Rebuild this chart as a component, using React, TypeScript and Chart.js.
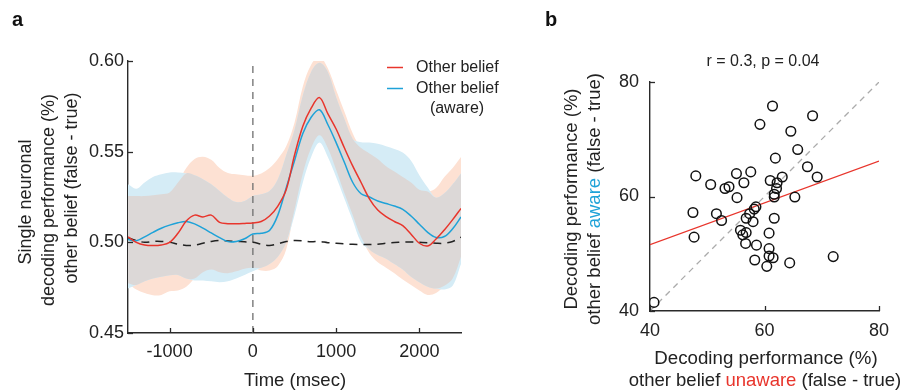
import React, { useEffect, useRef } from "react";
import { Chart, registerables } from "chart.js";

Chart.register(...registerables);

// ---------------- Panel a data ----------------
const times = [
  -1500, -1400, -1300, -1200, -1100, -1000, -900, -800, -700, -600, -500, -400, -300, -200, -100,
  0, 100, 200, 300, 400, 500, 600, 700, 800, 900, 1000, 1100, 1200, 1300, 1400, 1500, 1600, 1700,
  1800, 1900, 2000, 2100, 2200, 2300, 2400, 2500,
];
const redMean = [
  0.503, 0.5, 0.4985, 0.4982, 0.4985, 0.5, 0.505, 0.5117, 0.515, 0.514, 0.515, 0.511, 0.5103,
  0.5102, 0.5104, 0.5107, 0.5115, 0.5145, 0.52, 0.529, 0.548, 0.564, 0.574, 0.5798, 0.571, 0.5625,
  0.552, 0.542, 0.533, 0.524, 0.5178, 0.5142, 0.5115, 0.5092, 0.5045, 0.4995, 0.498, 0.5018,
  0.5068, 0.5125, 0.5187,
];
const blueMean = [
  0.5015, 0.5009, 0.503, 0.5055, 0.5078, 0.5095, 0.5108, 0.5115, 0.5102, 0.5078, 0.5052, 0.5026,
  0.5004, 0.5005, 0.502, 0.5046, 0.505, 0.5065, 0.515, 0.53, 0.545, 0.56, 0.569, 0.5731, 0.565,
  0.555, 0.544, 0.533, 0.5268, 0.525, 0.5228, 0.5214, 0.52, 0.5182, 0.5145, 0.51, 0.5055, 0.5027,
  0.5032, 0.5075, 0.514,
];
const chanceMean = [
  0.5025, 0.501, 0.5, 0.5005, 0.5005, 0.5, 0.499, 0.4983, 0.4985, 0.4995, 0.5005, 0.501, 0.5008,
  0.5005, 0.5003, 0.5, 0.499, 0.4983, 0.4992, 0.5005, 0.501, 0.5008, 0.5003, 0.5005, 0.4998,
  0.4995, 0.4992, 0.4989, 0.4988, 0.4988, 0.499, 0.4995, 0.4999, 0.5002, 0.5002, 0.5, 0.4998,
  0.4995, 0.4995, 0.5005, 0.5028,
];
const redHi = [
  0.5256, 0.5255, 0.5255, 0.526, 0.5265, 0.5275, 0.533, 0.541, 0.546, 0.5472, 0.5455, 0.541,
  0.5382, 0.5375, 0.537, 0.5367, 0.538, 0.541, 0.546, 0.553, 0.566, 0.586, 0.598, 0.6024, 0.596,
  0.584, 0.572, 0.56, 0.552, 0.549, 0.546, 0.542, 0.539, 0.536, 0.533, 0.529, 0.528, 0.53, 0.536,
  0.541, 0.547,
];
const redLo = [
  0.4775, 0.474, 0.472, 0.4708, 0.471, 0.473, 0.4735, 0.4755, 0.48, 0.4835, 0.485, 0.4835, 0.483,
  0.484, 0.4855, 0.486, 0.4845, 0.4845, 0.487, 0.496, 0.518, 0.538, 0.552, 0.559, 0.552, 0.54,
  0.527, 0.515, 0.503, 0.494, 0.489, 0.486, 0.483, 0.4795, 0.4765, 0.4735, 0.471, 0.472, 0.476,
  0.48, 0.492,
];
const blueHi = [
  0.532, 0.5295, 0.533, 0.536, 0.5375, 0.5385, 0.5385, 0.538, 0.537, 0.5348, 0.532, 0.5283,
  0.5246, 0.5222, 0.5228, 0.5256, 0.5265, 0.5283, 0.5348, 0.548, 0.562, 0.581, 0.594, 0.599,
  0.594, 0.58, 0.568, 0.557, 0.5552, 0.555, 0.5543, 0.553, 0.5515, 0.5495, 0.545, 0.537, 0.5302,
  0.5246, 0.527, 0.532, 0.538,
];
const blueLo = [
  0.4745, 0.4765, 0.4785, 0.48, 0.481, 0.4818, 0.482, 0.48, 0.479, 0.479, 0.4785, 0.478, 0.4785,
  0.48, 0.482, 0.484, 0.486, 0.488, 0.492, 0.5, 0.515, 0.533, 0.547, 0.555, 0.547, 0.536, 0.524,
  0.512, 0.5, 0.496, 0.493, 0.491, 0.488, 0.485, 0.481, 0.478, 0.4755, 0.4745, 0.474, 0.476,
  0.488,
];
const onsetLineY = [0.45, 0.6];
const timeTicks = [-1000, 0, 1000, 2000];
const perfTicks = [0.45, 0.5, 0.55, 0.6];
const legendLabels = ["Other belief", "Other belief", "(aware)"];

// ---------------- Panel b data ----------------
const unawarePerf = [
  40.7, 48.0, 47.7, 47.5, 50.6, 53.1, 53.8, 51.6, 52.5, 55.1, 56.4, 57.6, 55.2, 59.2, 61.4, 68.4,
  64.6, 65.8, 61.9, 67.5, 69.2, 63.1, 61.0, 62.2, 62.1, 61.7, 61.7, 65.3, 58.5, 58.2, 57.4, 56.8,
  58.0, 61.7, 55.8, 56.8, 56.2, 60.8, 56.7, 58.6, 60.8, 60.8, 61.5, 58.3, 60.4, 64.4, 72.0,
];
const awarePerf = [
  41.5, 63.6, 52.9, 57.2, 62.1, 61.4, 61.7, 57.0, 55.8, 64.0, 62.4, 64.3, 59.8, 72.6, 75.8, 74.1,
  71.4, 68.2, 66.7, 65.2, 63.4, 63.4, 62.8, 62.4, 61.4, 60.4, 59.9, 59.9, 58.2, 57.8, 57.0, 56.2,
  55.6, 56.2, 54.1, 53.7, 53.3, 53.6, 51.8, 51.5, 50.9, 49.6, 49.3, 48.9, 47.8, 48.4, 49.5,
];
const fitX = [40, 80];
const fitY = [51.6, 66.2];
const unityX = [40, 80];
const unityY = [40, 80];
const scatterTicks = [40, 60, 80];
const statText = "r = 0.3, p = 0.04";

// ---------------- styles ----------------
const FONT = '"Liberation Sans", Arial, Helvetica, sans-serif';
const INK = "#222222";
const AXIS = "#2a2a2a";
const RED = "#e8352c";
const BLUE = "#1ea2d8";
const SALMON = "#fde1d3";
const SKY = "#d5ecf6";
const OVERLAP = "#dcd8d7";

type Part = { text: string; color: string };

function drawParts(
  ctx: CanvasRenderingContext2D,
  parts: Part[],
  x: number,
  y: number,
  size: number,
  opts: { rotate?: boolean; align?: "center" | "left"; bold?: boolean } = {}
) {
  ctx.save();
  ctx.font = `${opts.bold ? "bold " : ""}${size}px ${FONT}`;
  ctx.textBaseline = "middle";
  ctx.textAlign = "left";
  ctx.translate(x, y);
  if (opts.rotate) ctx.rotate(-Math.PI / 2);
  const total = parts.reduce((s, p) => s + ctx.measureText(p.text).width, 0);
  let cx = opts.align === "left" ? 0 : -total / 2;
  for (const p of parts) {
    ctx.fillStyle = p.color;
    ctx.fillText(p.text, cx, 0);
    cx += ctx.measureText(p.text).width;
  }
  ctx.restore();
}

const inwardTicks = {
  id: "inwardTicks",
  afterDraw(chart: any) {
    const { ctx, chartArea, scales } = chart;
    ctx.save();
    ctx.strokeStyle = AXIS;
    ctx.lineWidth = 1.3;
    const xs = scales.x;
    const ys = scales.y;
    xs.ticks.forEach((t: any) => {
      const px = Math.round(xs.getPixelForValue(t.value)) + 0.5;
      ctx.beginPath();
      ctx.moveTo(px, chartArea.bottom);
      ctx.lineTo(px, chartArea.bottom - 5);
      ctx.stroke();
    });
    ys.ticks.forEach((t: any) => {
      const py = Math.round(ys.getPixelForValue(t.value)) + 0.5;
      ctx.beginPath();
      ctx.moveTo(chartArea.left, py);
      ctx.lineTo(chartArea.left + 5, py);
      ctx.stroke();
    });
    ctx.restore();
  },
};

const pts = (xs: number[], ys: number[]) => xs.map((x, i) => ({ x, y: ys[i] }));

export default function App() {
  const refA = useRef<HTMLCanvasElement>(null);
  const refB = useRef<HTMLCanvasElement>(null);

  useEffect(() => {
    const overlapHi = redHi.map((v, i) => Math.min(v, blueHi[i]));
    const overlapLo = redLo.map((v, i) => Math.max(v, blueLo[i]));
    const band = (vals: number[], color: string, order: number, fill: any) => ({
      data: pts(times, vals),
      borderColor: "transparent",
      borderWidth: 0,
      backgroundColor: color,
      pointRadius: 0,
      tension: 0.35,
      fill,
      order,
    });

    const textA = {
      id: "textA",
      afterDraw(chart: any) {
        const ctx = chart.ctx as CanvasRenderingContext2D;
        drawParts(ctx, [{ text: "a", color: "#111" }], 12, 20, 20, { bold: true, align: "left" });
        drawParts(ctx, [{ text: "Single neuronal", color: INK }], 26, 202, 18, { rotate: true });
        drawParts(ctx, [{ text: "decoding performance (%)", color: INK }], 49, 200, 18, { rotate: true });
        drawParts(ctx, [{ text: "other belief (false - true)", color: INK }], 72, 188, 18, { rotate: true });
        drawParts(ctx, [{ text: "Time (msec)", color: INK }], 295, 381, 18.5);
        // legend
        ctx.save();
        ctx.lineWidth = 1.5;
        ctx.strokeStyle = RED;
        ctx.beginPath();
        ctx.moveTo(387, 67.5);
        ctx.lineTo(403, 67.5);
        ctx.stroke();
        ctx.strokeStyle = BLUE;
        ctx.beginPath();
        ctx.moveTo(387, 88.5);
        ctx.lineTo(403, 88.5);
        ctx.stroke();
        ctx.restore();
        drawParts(ctx, [{ text: legendLabels[0], color: INK }], 416, 68, 16, { align: "left" });
        drawParts(ctx, [{ text: legendLabels[1], color: INK }], 416, 89, 16, { align: "left" });
        drawParts(ctx, [{ text: legendLabels[2], color: INK }], 457, 109, 16);
      },
    };

    const chartA = new Chart(refA.current as HTMLCanvasElement, {
      type: "line",
      data: {
        datasets: [
          { data: pts(times, redMean), borderColor: RED, borderWidth: 1.5, pointRadius: 0, tension: 0.35, fill: false, order: 0 },
          { data: pts(times, blueMean), borderColor: BLUE, borderWidth: 1.5, pointRadius: 0, tension: 0.35, fill: false, order: 1 },
          { data: pts(times, chanceMean), borderColor: "#222", borderWidth: 1.5, borderDash: [8, 6], pointRadius: 0, tension: 0.35, fill: false, order: 2 },
          { data: pts([0, 0], onsetLineY), borderColor: "#6f6f6f", borderWidth: 1.3, borderDash: [7, 6], pointRadius: 0, tension: 0, fill: false, order: 3 },
          band(overlapHi, OVERLAP, 4, "+1"),
          band(overlapLo, OVERLAP, 4, false),
          band(blueHi, SKY, 5, "+1"),
          band(blueLo, SKY, 5, false),
          band(redHi, SALMON, 6, "+1"),
          band(redLo, SALMON, 6, false),
        ] as any,
      },
      options: {
        responsive: false,
        animation: false,
        events: [],
        layout: { padding: { left: 0, top: 61, right: 39, bottom: 9 } },
        plugins: { legend: { display: false }, tooltip: { enabled: false }, filler: { propagate: false } },
        scales: {
          x: {
            type: "linear",
            min: -1500,
            max: 2500,
            grid: { display: false, drawTicks: false },
            border: { display: true, color: AXIS, width: 1.4 },
            afterBuildTicks: (s: any) => {
              s.ticks = timeTicks.map((v) => ({ value: v }));
            },
            afterFit: (s: any) => {
              s.height = 50;
            },
            ticks: {
              autoSkip: false,
              maxRotation: 0,
              padding: 8,
              color: INK,
              font: { family: FONT, size: 18 },
              callback: (v: any) => String(v),
            },
          },
          y: {
            type: "linear",
            min: 0.45,
            max: 0.6,
            grid: { display: false, drawTicks: false },
            border: { display: true, color: AXIS, width: 1.4 },
            afterBuildTicks: (s: any) => {
              s.ticks = perfTicks.map((v) => ({ value: v }));
            },
            afterFit: (s: any) => {
              s.width = 128;
            },
            ticks: {
              padding: 4,
              color: INK,
              font: { family: FONT, size: 18 },
              callback: (v: any) => Number(v).toFixed(2),
            },
          },
        },
      },
      plugins: [inwardTicks, textA],
    } as any);

    const textB = {
      id: "textB",
      afterDraw(chart: any) {
        const ctx = chart.ctx as CanvasRenderingContext2D;
        drawParts(ctx, [{ text: "b", color: "#111" }], 45, 20, 20, { bold: true, align: "left" });
        drawParts(ctx, [{ text: statText, color: INK }], 263, 62, 16);
        drawParts(ctx, [{ text: "Decoding performance (%)", color: INK }], 72, 199, 18.5, { rotate: true });
        drawParts(
          ctx,
          [
            { text: "other belief ", color: INK },
            { text: "aware", color: BLUE },
            { text: " (false - true)", color: INK },
          ],
          95,
          199,
          18.5,
          { rotate: true }
        );
        drawParts(ctx, [{ text: "Decoding performance (%)", color: INK }], 266, 359, 18.7);
        drawParts(
          ctx,
          [
            { text: "other belief ", color: INK },
            { text: "unaware", color: RED },
            { text: " (false - true)", color: INK },
          ],
          265,
          381,
          18.5
        );
      },
    };

    const chartB = new Chart(refB.current as HTMLCanvasElement, {
      type: "scatter",
      data: {
        datasets: [
          {
            data: pts(unawarePerf, awarePerf),
            pointRadius: 4.8,
            pointBorderWidth: 1.5,
            borderColor: "#111",
            backgroundColor: "transparent",
            showLine: false,
            order: 0,
          },
          {
            data: pts(fitX, fitY),
            showLine: true,
            borderColor: RED,
            borderWidth: 1.3,
            pointRadius: 0,
            order: 1,
          },
          {
            data: pts(unityX, unityY),
            showLine: true,
            borderColor: "#ababab",
            borderWidth: 1.3,
            borderDash: [6, 5],
            pointRadius: 0,
            order: 2,
          },
        ] as any,
      },
      options: {
        responsive: false,
        animation: false,
        events: [],
        layout: { padding: { left: 0, top: 82, right: 29, bottom: 41 } },
        plugins: { legend: { display: false }, tooltip: { enabled: false } },
        scales: {
          x: {
            type: "linear",
            min: 40,
            max: 80,
            grid: { display: false, drawTicks: false },
            border: { display: true, color: AXIS, width: 1.4 },
            afterBuildTicks: (s: any) => {
              s.ticks = scatterTicks.map((v) => ({ value: v }));
            },
            afterFit: (s: any) => {
              s.height = 40;
            },
            ticks: {
              autoSkip: false,
              maxRotation: 0,
              padding: 9,
              color: INK,
              font: { family: FONT, size: 18 },
              callback: (v: any) => String(v),
            },
          },
          y: {
            type: "linear",
            min: 40,
            max: 80,
            grid: { display: false, drawTicks: false },
            border: { display: true, color: AXIS, width: 1.4 },
            afterBuildTicks: (s: any) => {
              s.ticks = scatterTicks.map((v) => ({ value: v }));
            },
            afterFit: (s: any) => {
              s.width = 150;
            },
            ticks: {
              padding: 11,
              color: INK,
              font: { family: FONT, size: 18 },
              callback: (v: any) => String(v),
            },
          },
        },
      },
      plugins: [inwardTicks, textB],
    } as any);

    return () => {
      chartA.destroy();
      chartB.destroy();
    };
  }, []);

  return (
    <div style={{ position: "absolute", left: 0, top: 0, width: 908, height: 392, background: "#fff" }}>
      <canvas ref={refA} width={500} height={392} style={{ position: "absolute", left: 0, top: 0 }} />
      <canvas ref={refB} width={408} height={392} style={{ position: "absolute", left: 500, top: 0 }} />
    </div>
  );
}
